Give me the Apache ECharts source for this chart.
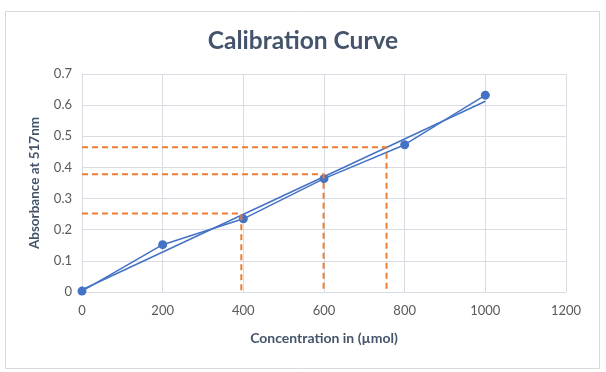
<!DOCTYPE html>
<html>
<head>
<meta charset="utf-8">
<script src="https://cdn.jsdelivr.net/npm/echarts@6/dist/echarts.min.js"></script>
<style>
html,body{margin:0;padding:0;background:#fff;}
#chart{width:606px;height:372px;}
</style>
</head>
<body>
<div id="chart"></div>
<script>
// Data
const concentrations = [0, 200, 400, 600, 800, 1000];
const absorbance = [0.003, 0.152, 0.235, 0.364, 0.473, 0.632];
// Reading guides (unknown samples)
const readAbsorbance = [0.252, 0.378, 0.465];
const readConcentration = [395, 599, 755];
const xTicks = [0, 200, 400, 600, 800, 1000, 1200];
const yTicks = [0, 0.1, 0.2, 0.3, 0.4, 0.5, 0.6, 0.7];

// Linear least-squares trendline from the data
const n = concentrations.length;
const mx = concentrations.reduce((a, b) => a + b, 0) / n;
const my = absorbance.reduce((a, b) => a + b, 0) / n;
let sxy = 0, sxx = 0;
for (let i = 0; i < n; i++) {
  sxy += (concentrations[i] - mx) * (absorbance[i] - my);
  sxx += (concentrations[i] - mx) ** 2;
}
const slope = sxy / sxx;
const intercept = my - slope * mx;
const xFirst = concentrations[0], xLast = concentrations[n - 1];
const trend = [[xFirst, intercept + slope * xFirst], [xLast, intercept + slope * xLast]];

const font = 'Lato, "Open Sans", sans-serif';
const guideSeries = readAbsorbance.map((y, i) => ({
  type: 'line',
  data: [[0, y], [readConcentration[i], y], [readConcentration[i], 0]],
  symbol: 'none',
  lineStyle: { color: '#ED7D31', width: 2, type: [6, 4] },
  z: 4,
  silent: true
}));

const chart = echarts.init(document.getElementById('chart'), null, { renderer: 'canvas' });
chart.setOption({
  animation: false,
  backgroundColor: '#fff',
  graphic: [{
    type: 'rect',
    shape: { x: 5.5, y: 11.5, width: 594, height: 357 },
    style: { fill: 'none', stroke: '#d9d9d9', lineWidth: 1 },
    z: -1
  }],
  title: {
    text: 'Calibration Curve',
    left: 'center',
    top: 24,
    textStyle: { fontFamily: font, fontSize: 24.5, fontWeight: 'bold', color: '#44546A' }
  },
  grid: { left: 82, right: 40, top: 74, bottom: 80 },
  xAxis: {
    type: 'value',
    min: xTicks[0],
    max: xTicks[xTicks.length - 1],
    interval: 200,
    name: 'Concentration in (µmol)',
    nameLocation: 'middle',
    nameGap: 39,
    nameTextStyle: { fontFamily: font, fontSize: 14, fontWeight: 'bold', color: '#44546A' },
    axisLine: { show: true, lineStyle: { color: '#d9dce3' } },
    axisTick: { show: false },
    axisLabel: { fontFamily: font, fontSize: 13, color: '#595959', margin: 12,
      formatter: v => String(v) },
    splitLine: { show: true, lineStyle: { color: '#d9dce3', width: 1 } }
  },
  yAxis: {
    type: 'value',
    min: yTicks[0],
    max: yTicks[yTicks.length - 1],
    interval: 0.1,
    name: 'Absorbance at 517nm',
    nameLocation: 'middle',
    nameGap: 40,
    nameTextStyle: { fontFamily: font, fontSize: 13.5, fontWeight: 'bold', color: '#44546A' },
    axisLine: { show: true, lineStyle: { color: '#d9dce3' } },
    axisTick: { show: false },
    axisLabel: { fontFamily: font, fontSize: 13, color: '#595959', margin: 10,
      formatter: v => String(Math.round(v * 10) / 10) },
    splitLine: { show: true, lineStyle: { color: '#d9dce3', width: 1 } }
  },
  series: [
    {
      type: 'line',
      data: concentrations.map((x, i) => [x, absorbance[i]]),
      symbol: 'circle',
      symbolSize: 9,
      itemStyle: { color: '#4472C4' },
      lineStyle: { color: '#4472C4', width: 1.5 },
      z: 3
    },
    {
      type: 'line',
      data: trend,
      symbol: 'none',
      lineStyle: { color: '#4472C4', width: 1.5 },
      z: 3
    },
    ...guideSeries
  ]
});
</script>
</body>
</html>
